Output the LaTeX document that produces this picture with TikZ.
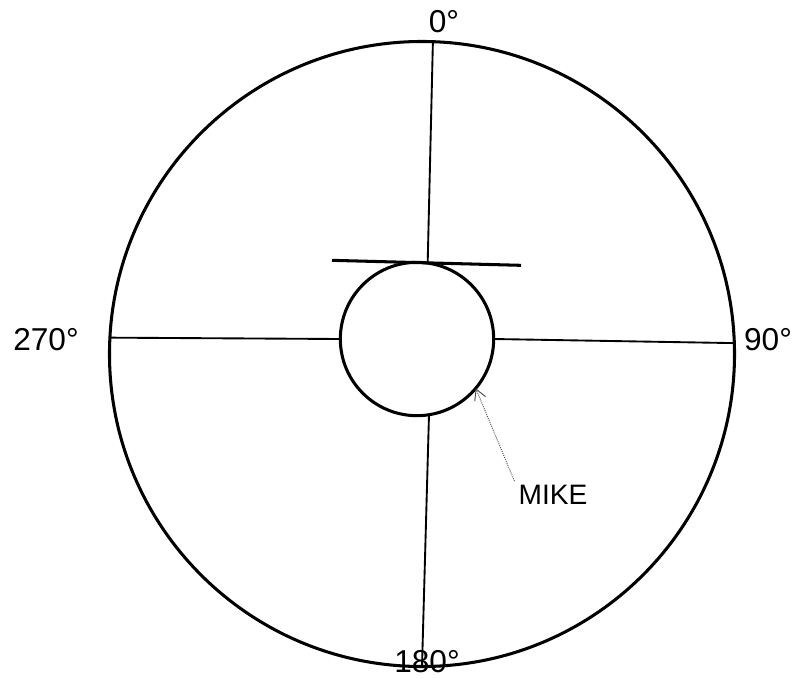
\documentclass[tikz,border=0pt]{standalone}
\usepackage{fontspec}
\setmainfont{Liberation Sans}
\usetikzlibrary{positioning,arrows.meta}

\begin{document}
\begin{tikzpicture}[
    x=0.03cm, y=-0.03cm,
    ring/.style={circle, draw=black, line width=2.6pt, inner sep=0pt, outer sep=0pt},
    spoke/.style={line width=1.6pt},
    deg/.style={font=\fontsize{27}{30}\selectfont, inner sep=0pt},
    pointer/.style={-{Straight Barb[length=9pt,width=10pt]}, densely dotted, line width=0.8pt, gray!60!black}
]
\useasboundingbox (0,0) rectangle (793,678);

% Rings
\node[ring, minimum size=18.75cm] (outer) at (422,354) {};
\node[ring, minimum size=4.6cm] (inner) at (417,339) {};

% Spokes
\draw[spoke] (outer.88.5) -- (inner.82);
\draw[spoke] (outer.177) -- (inner.west);
\draw[spoke] (inner.east) -- (outer.2.6);
\draw[spoke] (inner.-81) -- (outer.south);

% Tangent bar
\draw[line width=2.6pt] ([shift={(-85,-2)}]inner.north) -- ([shift={(104,3)}]inner.north);

% Angle labels
\node[deg] (d0) at (444,22) {0°};
\node[deg] (d270) at (46,340) {270°};
\node[deg] (d90) at (768,340) {90°};
\node[deg] (d180) at (427,662) {180°};

% Mike
\node[font=\fontsize{24}{26}\selectfont] (mike) at (553,495) {MIKE};
\draw[pointer] (mike.north west) -- (inner.-40);

\end{tikzpicture}
\end{document}
